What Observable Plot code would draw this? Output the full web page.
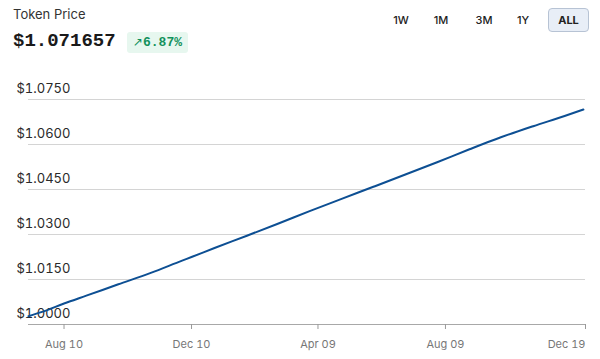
<!DOCTYPE html>
<html>
<head>
<meta charset="utf-8">
<script src="https://cdn.jsdelivr.net/npm/d3@7"></script>
<script src="https://cdn.jsdelivr.net/npm/@observablehq/plot@0.6"></script>
<style>
  html, body { margin: 0; padding: 0; background: #fff; }
  #wrap { position: relative; width: 600px; height: 359px; overflow: hidden; font-family: Inter, "Noto Sans", sans-serif; }
  .title { position: absolute; left: 13px; top: 6px; font-size: 13px; color: #333; }
  .price { position: absolute; left: 13px; top: 30px; font-family: "Liberation Mono", "DejaVu Sans Mono", monospace; font-weight: bold; font-size: 19px; color: #1a1a1a; }
  .badge { position: absolute; left: 127px; top: 32px; width: 61px; height: 21px; background: #e7f7ef; border-radius: 3px; color: #13915c; font-family: "Liberation Mono", "DejaVu Sans Mono", monospace; font-weight: bold; font-size: 13px; line-height: 21px; text-align: center; }
  .badge .arr { font-family: "DejaVu Sans", sans-serif; font-size: 12px; font-weight: normal; }
  .btn { position: absolute; top: 8px; height: 24px; line-height: 24px; font-size: 11px; font-weight: 500; color: #222; text-align: center; width: 40px; box-sizing: border-box; }
  .btn.active { background: #e8eef7; border: 1px solid #b7c3d4; border-radius: 4px; line-height: 22px; font-weight: 700; }
  #chart { position: absolute; left: 0; top: 60px; }
</style>
</head>
<body>
<div id="wrap">
  <div class="title">Token Price</div>
  <div class="price">$1.071657</div>
  <div class="badge"><span class="arr">↗</span>6.87%</div>
  <div id="buttons"></div>
  <div id="chart"></div>
</div>
<script>
const rangeButtons = ["1W", "1M", "3M", "1Y", "ALL"];
const buttonCenters = [401, 441, 484, 523, 568];

const dates = ["2023-07-07","2023-07-20","2023-08-10","2023-09-01","2023-10-01","2023-11-01","2023-12-01","2023-12-10","2024-01-01","2024-02-01","2024-03-01","2024-04-01","2024-05-01","2024-06-01","2024-07-01","2024-08-01","2024-09-01","2024-10-01","2024-11-01","2024-12-01","2024-12-19"];
const prices = [1.00277,1.0042,1.0070,1.0097,1.0134,1.0172,1.0213,1.0225,1.0255,1.0296,1.0335,1.0378,1.0418,1.0459,1.0499,1.0541,1.0584,1.0624,1.0661,1.0695,1.071657];

const yTicks = [1.0, 1.015, 1.03, 1.045, 1.06, 1.075];
const xTickDates = ["2023-08-10","2023-12-10","2024-04-09","2024-08-09","2024-12-21"];
const xTickLabels = ["Aug 10","Dec 10","Apr 09","Aug 09","Dec 19"];
const xDomain = ["2023-07-07","2024-12-21"];

const btnHost = document.getElementById("buttons");
rangeButtons.forEach((b, i) => {
  const el = document.createElement("div");
  el.className = "btn" + (b === "ALL" ? " active" : "");
  el.style.left = (buttonCenters[i] - 20) + "px";
  if (b === "ALL") { el.style.width = "41px"; el.style.left = "548px"; }
  el.textContent = b;
  btnHost.appendChild(el);
});

const parse = d3.utcParse("%Y-%m-%d");
const data = dates.map((d, i) => ({date: parse(d), price: prices[i]}));
const tickDates = xTickDates.map(parse);
const labelOf = new Map(tickDates.map((d, i) => [+d, xTickLabels[i]]));

const chart = Plot.plot({
  width: 600,
  height: 299,
  marginLeft: 28,
  marginRight: 15,
  marginTop: 39,
  marginBottom: 35,
  style: {fontFamily: "Inter, 'Noto Sans', sans-serif", background: "transparent"},
  x: {type: "utc", domain: xDomain.map(parse), label: null},
  y: {domain: [1.0, 1.075], label: null},
  marks: [
    Plot.gridY(yTicks.slice(1), {stroke: "#d4d4d4", strokeOpacity: 1}),
    Plot.ruleY([1.0], {stroke: "#a8a8a8", strokeWidth: 1}),
    Plot.axisY({ticks: yTicks, tickFormat: d => "$" + d.toFixed(4), tickSize: 0, textAnchor: "start", dx: -3, dy: -11, fontSize: 13, fill: "#2a2a2a", label: null}),
    Plot.axisX({ticks: tickDates.slice(0, 4), tickFormat: d => labelOf.get(+d), tickSize: 5, tickPadding: 11, fontSize: 11, fill: "#777", stroke: "#999", label: null}),
    Plot.axisX({ticks: tickDates.slice(4), tickFormat: d => labelOf.get(+d), tickSize: 5, tickPadding: 11, fontSize: 11, fill: "#777", stroke: "#999", textAnchor: "end", label: null}),
    Plot.line(data, {x: "date", y: "price", stroke: "#0d4f93", strokeWidth: 2, curve: "monotone-x"})
  ]
});
document.getElementById("chart").appendChild(chart);
</script>
</body>
</html>
